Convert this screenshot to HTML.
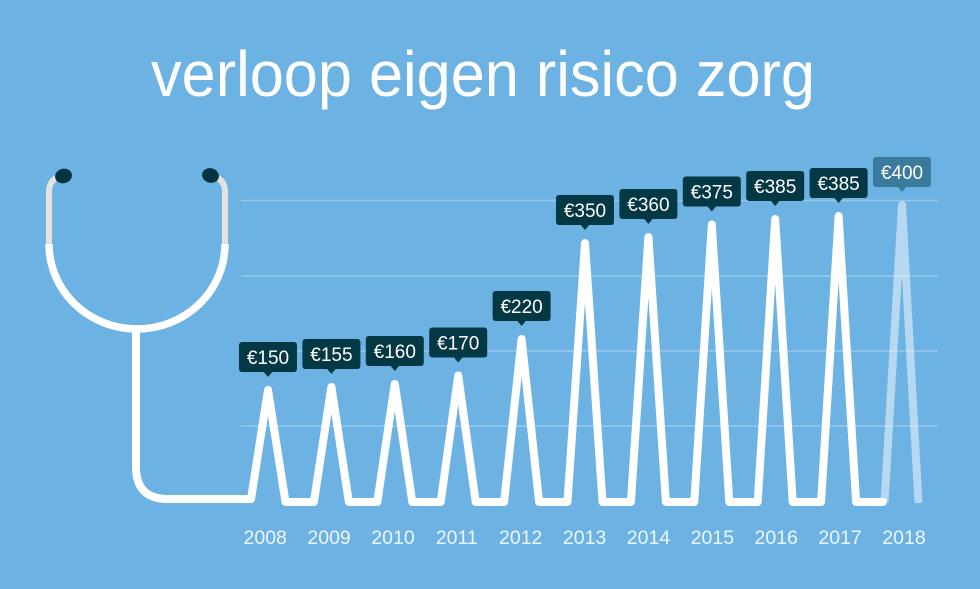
<!DOCTYPE html>
<html>
<head>
<meta charset="utf-8">
<style>
  html, body { margin: 0; padding: 0; background: #6cb2e3; }
  svg { display: block; }
  text { font-family: "Liberation Sans", "DejaVu Sans", sans-serif; }
</style>
</head>
<body>
<svg width="980" height="589" viewBox="0 0 980 589" xmlns="http://www.w3.org/2000/svg">
  <rect x="0" y="0" width="980" height="589" fill="#6cb2e3"/>

  <!-- Title -->
  <text x="483" y="96" font-size="64" fill="#ffffff" text-anchor="middle" textLength="664" lengthAdjust="spacingAndGlyphs">verloop eigen risico zorg</text>

  <!-- Gridlines -->
  <g stroke="#97c8ec" stroke-width="1.5">
    <line x1="241" y1="200.5" x2="938" y2="200.5"/>
    <line x1="241" y1="276" x2="938" y2="276"/>
    <line x1="241" y1="351" x2="938" y2="351"/>
    <line x1="241" y1="426" x2="938" y2="426"/>
  </g>

  <!-- Stethoscope tubes (gray) -->
  <g fill="none" stroke="#e2e2e2" stroke-width="6">
    <path d="M49,246 L49,192 Q49,181 58,177"/>
    <path d="M225,246 L225,192 Q225,181 216,177"/>
  </g>
  <!-- Earpieces -->
  <ellipse cx="63.5" cy="176" rx="8.5" ry="7.3" fill="#04343f" transform="rotate(-15 63.5 176)"/>
  <ellipse cx="210.5" cy="175.5" rx="8.5" ry="7.3" fill="#04343f" transform="rotate(15 210.5 175.5)"/>

  <!-- Stethoscope white parts -->
  <g fill="none" stroke="#ffffff" stroke-width="7.5" stroke-linejoin="round">
    <path d="M49,244 A88,85 0 0 0 225,244"/>
  </g>

  <!-- Main white line (stem + peaks) -->
  <path fill="none" stroke="#ffffff" stroke-width="8" stroke-linejoin="round" stroke-linecap="round"
    d="M136,329 L136,467 Q136,499 168,499 L251,499
       L268,390 L285.5,502
       L313.9,502 L331.4,387 L348.9,502
       L377.3,502 L394.8,384 L412.3,502
       L440.7,502 L458.2,375.5 L475.7,502
       L504.1,502 L521.6,339 L539.1,502
       L567.5,502 L585,243 L602.5,502
       L630.9,502 L648.4,237 L665.9,502
       L694.3,502 L711.8,224.5 L729.3,502
       L757.7,502 L775.2,219 L792.7,502
       L821.1,502 L838.6,216 L856.1,502
       L883,502"/>

  <!-- 2018 light peak -->
  <path fill="none" stroke="rgba(255,255,255,0.5)" stroke-width="8" stroke-linejoin="round" stroke-linecap="butt"
    d="M884.5,502 L902,205 L918.5,503"/>

  <!-- Value labels -->
  <g fill="#033844">
    <rect x="239" y="342" width="58" height="30" rx="3"/><polygon points="263,371 273,371 268,377"/>
    <rect x="302.4" y="339" width="58" height="30" rx="3"/><polygon points="326.4,368 336.4,368 331.4,374"/>
    <rect x="365.8" y="336" width="58" height="30" rx="3"/><polygon points="389.8,365 399.8,365 394.8,371"/>
    <rect x="429.2" y="327.5" width="58" height="30" rx="3"/><polygon points="453.2,356.5 463.2,356.5 458.2,362.5"/>
    <rect x="492.6" y="291" width="58" height="30" rx="3"/><polygon points="516.6,320 526.6,320 521.6,326"/>
    <rect x="556" y="195" width="58" height="30" rx="3"/><polygon points="580,224 590,224 585,230"/>
    <rect x="619.4" y="189" width="58" height="30" rx="3"/><polygon points="643.4,218 653.4,218 648.4,224"/>
    <rect x="682.8" y="176.5" width="58" height="30" rx="3"/><polygon points="706.8,205.5 716.8,205.5 711.8,211.5"/>
    <rect x="746.2" y="171" width="58" height="30" rx="3"/><polygon points="770.2,200 780.2,200 775.2,206"/>
    <rect x="809.6" y="168" width="58" height="30" rx="3"/><polygon points="833.6,197 843.6,197 838.6,203"/>
  </g>
  <g fill="#3a7b9b">
    <rect x="873" y="157" width="58" height="30" rx="3"/><polygon points="897,186 907,186 902,192"/>
  </g>
  <g fill="#ffffff" font-size="19" text-anchor="middle">
    <text x="268" y="364">€150</text>
    <text x="331.4" y="361">€155</text>
    <text x="394.8" y="358">€160</text>
    <text x="458.2" y="349.5">€170</text>
    <text x="521.6" y="313">€220</text>
    <text x="585" y="217">€350</text>
    <text x="648.4" y="211">€360</text>
    <text x="711.8" y="198.5">€375</text>
    <text x="775.2" y="193">€385</text>
    <text x="838.6" y="190">€385</text>
    <text x="902" y="179">€400</text>
  </g>

  <!-- Year labels -->
  <g fill="#eef6fc" font-size="19.5" text-anchor="middle">
    <text x="265.2" y="544">2008</text>
    <text x="329.1" y="544">2009</text>
    <text x="393" y="544">2010</text>
    <text x="456.8" y="544">2011</text>
    <text x="520.7" y="544">2012</text>
    <text x="584.6" y="544">2013</text>
    <text x="648.5" y="544">2014</text>
    <text x="712.4" y="544">2015</text>
    <text x="776.2" y="544">2016</text>
    <text x="840.1" y="544">2017</text>
    <text x="904" y="544">2018</text>
  </g>
</svg>
</body>
</html>
